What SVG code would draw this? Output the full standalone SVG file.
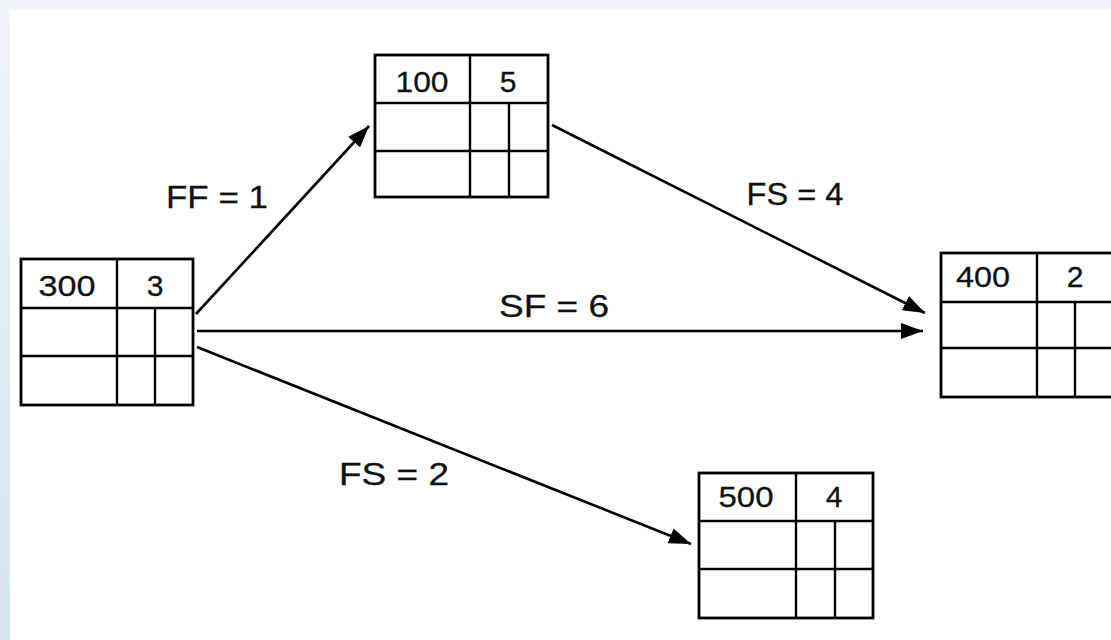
<svg xmlns="http://www.w3.org/2000/svg" width="1111" height="640" viewBox="0 0 1111 640">
<defs>
<linearGradient id="lb" x1="0" y1="0" x2="0" y2="1">
<stop offset="0" stop-color="#eef4f7"/>
<stop offset="1" stop-color="#d5e4eb"/>
</linearGradient>
<marker id="ah" viewBox="0 0 22 16" refX="22" refY="8" markerWidth="22" markerHeight="16" markerUnits="userSpaceOnUse" orient="auto">
<path d="M0,0 L22,8 L0,16 Z" fill="#000"/>
</marker>
<style>
.box{fill:#fff;stroke:#000;stroke-width:2.8}
.ln{stroke:#000;stroke-width:2.4;fill:none}
.num{font-family:"Liberation Sans",Arial,sans-serif;font-size:30px;fill:#111;text-anchor:middle;stroke:#111;stroke-width:0.3}
.lbl{font-family:"Liberation Sans",Arial,sans-serif;font-size:32px;fill:#111;text-anchor:middle;stroke:#111;stroke-width:0.3}
.cn{stroke:#000;stroke-width:2.6;fill:none;marker-end:url(#ah)}
</style>
</defs>
<rect x="0" y="0" width="1111" height="640" fill="#fff"/>
<rect x="0" y="0" width="1111" height="10" fill="#f2f6f8"/>
<rect x="0" y="10" width="10" height="630" fill="url(#lb)"/>

<g id="connectors">
<line class="cn" x1="196" y1="314" x2="369" y2="126"/>
<line class="cn" x1="197" y1="331" x2="923" y2="331"/>
<line class="cn" x1="552" y1="125" x2="925" y2="313"/>
<line class="cn" x1="197" y1="347" x2="691" y2="544"/>
<text class="lbl" x="217" y="208" textLength="102" lengthAdjust="spacingAndGlyphs">FF = 1</text>
<text class="lbl" x="554" y="317" textLength="110" lengthAdjust="spacingAndGlyphs">SF = 6</text>
<text class="lbl" x="795" y="205" textLength="97" lengthAdjust="spacingAndGlyphs">FS = 4</text>
<text class="lbl" x="394" y="485" textLength="110" lengthAdjust="spacingAndGlyphs">FS = 2</text>
</g>

<g id="node-300">
<rect class="box" x="21" y="259" width="172" height="146"/>
<path class="ln" d="M21,308 H193 M21,356 H193 M117,259 V405 M155,308 V405"/>
<text class="num" x="67" y="296" textLength="57" lengthAdjust="spacingAndGlyphs">300</text>
<text class="num" x="155" y="296">3</text>
</g>

<g id="node-100">
<rect class="box" x="375" y="55" width="173" height="142"/>
<path class="ln" d="M375,103 H548 M375,151 H548 M470,55 V197 M509,103 V197"/>
<text class="num" x="422" y="92" textLength="53" lengthAdjust="spacingAndGlyphs">100</text>
<text class="num" x="508" y="92">5</text>
</g>

<g id="node-400">
<rect class="box" x="941" y="253" width="173" height="144"/>
<path class="ln" d="M941,302 H1114 M941,348 H1114 M1037,253 V397 M1075,302 V397"/>
<text class="num" x="983" y="287" textLength="54" lengthAdjust="spacingAndGlyphs">400</text>
<text class="num" x="1075" y="287">2</text>
</g>

<g id="node-500">
<rect class="box" x="699" y="473" width="174" height="145"/>
<path class="ln" d="M699,521 H873 M699,569 H873 M796,473 V618 M835,521 V618"/>
<text class="num" x="746" y="507" textLength="55" lengthAdjust="spacingAndGlyphs">500</text>
<text class="num" x="834" y="507">4</text>
</g>
</svg>
